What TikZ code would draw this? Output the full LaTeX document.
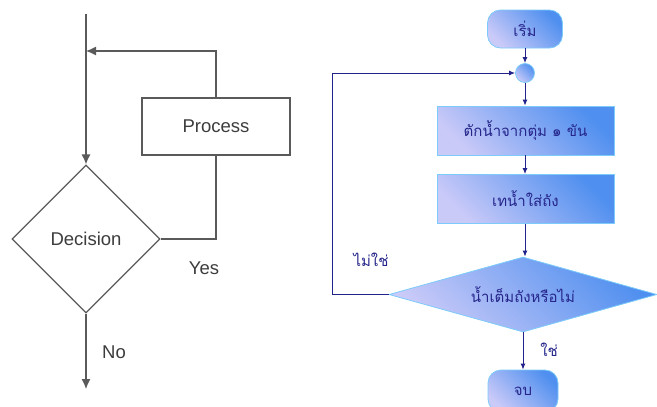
\documentclass[tikz,border=0pt]{standalone}
\usepackage{fontspec}
\setmainfont{Liberation Sans}
\newfontfamily\thaifont[Script=Thai]{Loma}
\usetikzlibrary{shapes.geometric,arrows.meta}
\definecolor{linegray}{HTML}{5A5A5A}
\definecolor{textgray}{HTML}{3C3C3C}
\definecolor{navyline}{HTML}{23238C}
\definecolor{navytext}{HTML}{25258A}
\definecolor{gradhi}{HTML}{4F8FEF}
\definecolor{gradlo}{HTML}{CACAF8}
\definecolor{edgeblue}{HTML}{7CCBFA}

\begin{document}
\begin{tikzpicture}[x=1pt, y=-1pt]
    \tikzstyle{flowline} = [draw=linegray, line width=1.2pt]
    \tikzstyle{plainbox} = [rectangle, flowline, minimum width=148pt, minimum height=57pt, inner sep=0pt, text=textgray, font=\fontsize{18.5}{20}\selectfont]
    \tikzstyle{plaindec} = [diamond, flowline, minimum width=148pt, minimum height=148pt, inner sep=0pt, text=textgray, font=\fontsize{18.5}{20}\selectfont]
    \tikzstyle{plainlbl} = [text=textgray, font=\fontsize{18.5}{20}\selectfont]
    \tikzstyle{grayarrow} = [flowline, -{Latex[length=10pt,width=9pt]}]
    \tikzstyle{blueshade} = [draw=edgeblue, line width=0.8pt, shading=axis, top color=gradhi, bottom color=gradlo, shading angle=-45, text=navytext, inner sep=0pt, font=\thaifont\fontsize{15}{17}\selectfont]
    \tikzstyle{terminal} = [rectangle, blueshade, rounded corners=13pt]
    \tikzstyle{stepbox} = [rectangle, blueshade, minimum width=177pt, minimum height=49pt]
    \tikzstyle{checkdec} = [diamond, blueshade, minimum width=268pt, minimum height=75pt, aspect=3.6]
    \tikzstyle{bluelbl} = [text=navytext, font=\thaifont\fontsize{15}{17}\selectfont]
    \tikzstyle{navyarrow} = [draw=navyline, line width=1pt, -{Latex[length=6pt,width=5pt]}]
    \useasboundingbox (0,0) rectangle (657,407);

    % generic flowchart
    \coordinate (entry) at (86,14);
    \coordinate (rejoin) at (86,51);
    \coordinate (exit) at (86,389);
    \node[plainbox] (proc) at (216,126.5) {Process};
    \node[plaindec] (dec) at (86,239) {Decision};
    \node[plainlbl] (yes) at (204,268) {Yes};
    \node[plainlbl] (no) at (114,352) {No};
    \draw[grayarrow] (entry) -- (dec.north);
    \draw[flowline] (dec.east) -| (proc.south);
    \draw[grayarrow] (proc.north) |- (rejoin);
    \draw[grayarrow] (dec.south) -- (exit);

    % water example
    \node[terminal, minimum width=75pt, minimum height=38pt] (start) at (525,29) {เริ่ม};
    \node[circle, blueshade, minimum size=19pt] (merge) at (525,73) {};
    \node[stepbox] (scoop) at (525.5,130.5) {ตักน้ำจากตุ่ม ๑ ขัน};
    \node[stepbox] (pour) at (525.5,199) {เทน้ำใส่ถัง};
    \node[checkdec] (full) at (523,294.5) {น้ำเต็มถังหรือไม่};
    \node[terminal, minimum width=70pt, minimum height=42pt] (stop) at (523,391) {จบ};
    \node[bluelbl] (notyet) at (371,260) {ไม่ใช่};
    \node[bluelbl] (done) at (549,350) {ใช่};
    \draw[navyarrow] (start) -- (merge);
    \draw[navyarrow] (merge) -- (merge |- scoop.north);
    \draw[navyarrow] (scoop.south -| merge) -- (merge |- pour.north);
    \draw[navyarrow] (pour.south -| merge) -- (merge |- full.north);
    \draw[navyarrow] (full.south) -- (stop);
    \draw[navyarrow] (full.west) -- ++(-56,0) |- (merge.west);
\end{tikzpicture}
\end{document}
